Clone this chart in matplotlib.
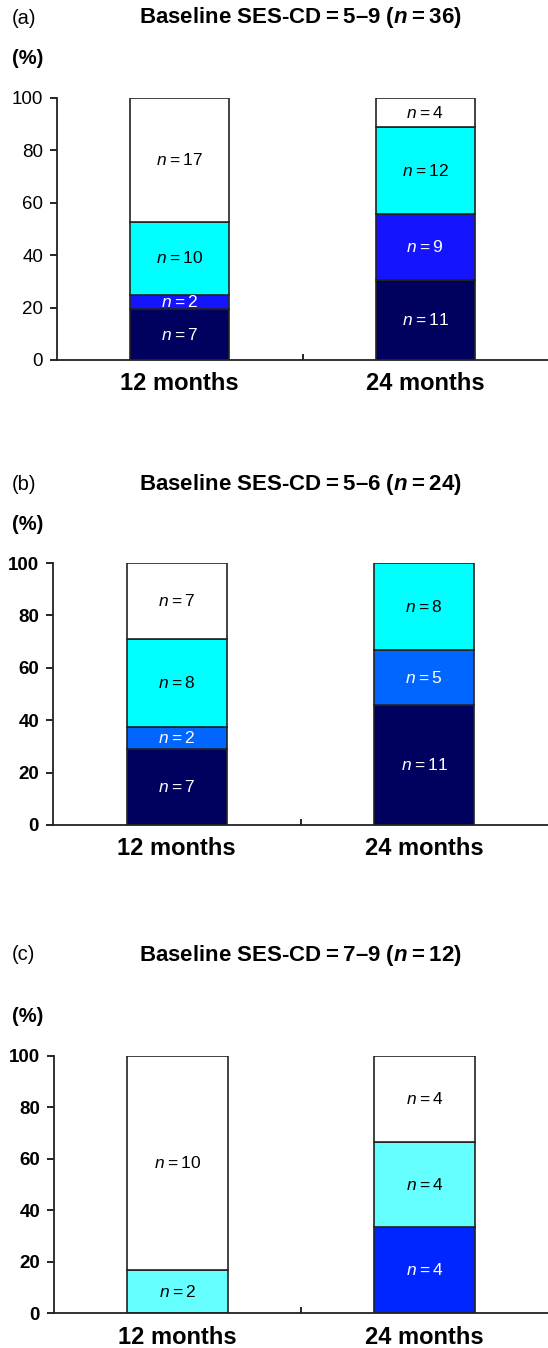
import numpy as np
import matplotlib
matplotlib.use('Agg')
from matplotlib import pyplot as plt

plt.rcParams['font.family'] = ['Liberation Sans', 'DejaVu Sans']
plt.rcParams['mathtext.fontset'] = 'custom'
plt.rcParams['mathtext.rm'] = 'Liberation Sans'
plt.rcParams['mathtext.it'] = 'Liberation Sans:italic'
plt.rcParams['mathtext.bf'] = 'Liberation Sans:bold'
plt.rcParams['mathtext.bfit'] = 'Liberation Sans:italic:bold'

TS = '\u2009'  # thin space around '='

categories = ['12 months', '24 months']
panel_tags = ['(a)', '(b)', '(c)']
panel_ranges = ['5–9', '5–6', '7–9']
panel_n = [36, 24, 12]
# counts per segment, bottom -> top (dark navy, blue, cyan, white)
counts_a = [[7, 2, 10, 17], [11, 9, 12, 4]]
counts_b = [[7, 2, 8, 7], [11, 5, 8, 0]]
counts_c = [[0, 0, 2, 10], [0, 4, 4, 4]]
yticks = [0, 20, 40, 60, 80, 100]

colors_a = ['#00005e', '#1414ff', '#00ffff', 'white']
colors_b = ['#00005e', '#0066ff', '#00ffff', 'white']
colors_c = ['#00005e', '#0026ff', '#66ffff', 'white']
text_colors = ['white', 'white', 'black', 'black']

fig = plt.figure(figsize=(5.48, 13.48), dpi=100)
H = 1348.

panels = [
    dict(counts=counts_a, colors=colors_a, rect=[57 / 548, 1 - 360 / H, 1 - 57 / 548, 262 / H],
         tag_y=18, pct_y=58, bold_ticks=False),
    dict(counts=counts_b, colors=colors_b, rect=[53 / 548, 1 - 825 / H, 1 - 53 / 548, 262 / H],
         tag_y=484, pct_y=525, bold_ticks=True),
    dict(counts=counts_c, colors=colors_c, rect=[54 / 548, 1 - 1313 / H, 1 - 54 / 548, 257 / H],
         tag_y=955, pct_y=1016, bold_ticks=True),
]

for p, tag, rng, ntot in zip(panels, panel_tags, panel_ranges, panel_n):
    ax = fig.add_axes(p['rect'])
    x = np.arange(len(categories))
    for i, cnt in enumerate(p['counts']):
        total = float(sum(cnt))
        bottom = 0.
        for j, c in enumerate(cnt):
            if c == 0:
                continue
            h = 100. * c / total
            ax.bar(x[i], h, width=0.405, bottom=bottom, color=p['colors'][j],
                   edgecolor='#222222', linewidth=1.2)
            ax.text(x[i], bottom + h / 2, r'$n$' + TS + '=' + TS + str(c), ha='center',
                    va='center', fontsize=12.5, color=text_colors[j])
            bottom += h
    ax.set_xlim(-0.5, 1.5)
    ax.set_ylim(0, 100)
    ax.set_yticks(yticks)
    ax.set_yticklabels([str(t) for t in yticks], fontsize=13.5,
                       fontweight='bold' if p['bold_ticks'] else 'normal')
    ax.set_xticks(x)
    ax.set_xticklabels(categories, fontsize=17, fontweight='bold')
    ax.tick_params(axis='x', length=0, pad=9)
    ax.tick_params(axis='y', length=5, width=1.2, direction='out', pad=5)
    ax.set_xticks([0.5], minor=True)
    ax.tick_params(axis='x', which='minor', length=4, width=1.2, direction='in')
    for s in ['top', 'right']:
        ax.spines[s].set_visible(False)
    for s in ['left', 'bottom']:
        ax.spines[s].set_linewidth(1.3)
        ax.spines[s].set_color('#222222')
    ax.spines['bottom'].set_bounds(-0.5, 1.6)

    title = ('Baseline SES-CD' + TS + '=' + TS + rng + ' (' + r'$\mathbfit{n}$'
             + TS + '=' + TS + str(ntot) + ')')
    fig.text(12 / 548, 1 - p['tag_y'] / H, tag, fontsize=14.5, ha='left', va='center')
    fig.text(12 / 548, 1 - p['pct_y'] / H, '(%)', fontsize=14.5, fontweight='bold',
             ha='left', va='center')
    fig.text(300 / 548, 1 - p['tag_y'] / H, title, fontsize=16, fontweight='bold',
             ha='center', va='center')

fig.savefig('out.png', dpi=100)
